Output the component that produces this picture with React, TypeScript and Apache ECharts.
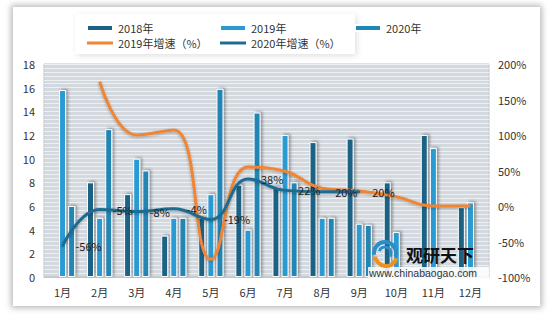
import React, { useEffect, useRef } from "react";
import * as echarts from "echarts";

const months = ["1月", "2月", "3月", "4月", "5月", "6月", "7月", "8月", "9月", "10月", "11月", "12月"];
const sales2018 = [null, 8, 7, 3.5, 5, 7.8, 7.6, 11.4, 11.7, 8, 12, 5.9];
const sales2019 = [15.8, 5, 10, 5, 7, 4, 12, 5, 4.5, 3.8, 10.9, 6.3];
const sales2020 = [6, 12.5, 9, 5, 15.9, 13.9, 8, 5, 4.4, null, null, null];
const growth2019 = [null, 175, 100, 107, -75, 55, 49, 25, 21, 13, 0, 0];
const growth2020 = [-56, -5, -8, -4, -19, 38, 22, 20, 20, null, null, null];

const C2018 = "#1b6285";
const C2019 = "#2a9bd2";
const C2020 = "#2385b4";
const CG19 = "#ef8535";
const CG20 = "#1f6c92";

const FONT = "'Noto Sans CJK SC', 'Noto Sans', sans-serif";

export default function App() {
  const ref = useRef<HTMLDivElement>(null);
  useEffect(() => {
    const chart = echarts.init(ref.current!, undefined, { renderer: "svg" });
    const barBase = {
      type: "bar",
      barWidth: 7,
      barGap: "30%",
      yAxisIndex: 0,
    };
    const barStyle = (c: string) => ({
      color: c,
      borderColor: "#ffffff",
      borderWidth: 1,
      shadowBlur: 3,
      shadowColor: "rgba(0,0,0,0.35)",
      shadowOffsetX: 2,
      shadowOffsetY: -1,
    });
    const barIcon = "path://M0,0H26V6H0Z";
    const lineIcon = "path://M0,0H26V3H0Z";
    const legendCommon = {
      orient: "vertical",
      top: 17.5,
      itemWidth: 26,
      itemHeight: 14,
      itemGap: 4,
      textStyle: { fontSize: 11, color: "#333", fontFamily: FONT },
    };
    chart.setOption({
      animation: false,
      textStyle: { fontFamily: FONT },
      legend: [
        { ...legendCommon, left: 81, data: [{ name: "2018年", icon: barIcon }, { name: "2019年增速（%）", icon: lineIcon }] },
        { ...legendCommon, left: 214, data: [{ name: "2019年", icon: barIcon }, { name: "2020年增速（%）", icon: lineIcon }] },
        { ...legendCommon, left: 349, data: [{ name: "2020年", icon: barIcon }] },
      ],
      grid: {
        left: 44,
        right: 64,
        top: 64,
        bottom: 48,
        show: true,
        backgroundColor: "#d3d9df",
        borderColor: "#bfc5cb",
        borderWidth: 1,
      },
      xAxis: {
        type: "category",
        data: months,
        axisLine: { show: true, lineStyle: { color: "#bfc5cb" } },
        axisTick: { show: false },
        axisLabel: { fontSize: 11, color: "#333", margin: 9, fontFamily: FONT },
      },
      yAxis: [
        {
          type: "value",
          min: 0,
          max: 18,
          interval: 2,
          axisLine: { show: false },
          axisTick: { show: false },
          axisLabel: { fontSize: 11, color: "#333", margin: 9 },
          splitLine: { show: true, lineStyle: { color: "#eef1f4", width: 1.2 } },
          minorTick: { show: false, splitNumber: 6 },
          minorSplitLine: { show: true, lineStyle: { color: "#eef1f4", width: 1.2 } },
        },
        {
          type: "value",
          min: -100,
          max: 200,
          interval: 50,
          position: "right",
          axisLine: { show: false },
          axisTick: { show: false },
          axisLabel: { fontSize: 11, color: "#333", margin: 9, formatter: "{value}%" },
          splitLine: { show: false },
        },
      ],
      series: [
        { ...barBase, name: "2018年", data: sales2018, itemStyle: barStyle(C2018) },
        { ...barBase, name: "2019年", data: sales2019, itemStyle: barStyle(C2019) },
        { ...barBase, name: "2020年", data: sales2020, itemStyle: barStyle(C2020) },
        {
          type: "line",
          name: "2019年增速（%）",
          yAxisIndex: 1,
          data: growth2019,
          smooth: 0.45,
          symbol: "none",
          lineStyle: { color: CG19, width: 3, shadowBlur: 3, shadowColor: "rgba(0,0,0,0.3)", shadowOffsetY: 1 },
          itemStyle: { color: CG19 },
          z: 5,
        },
        {
          type: "line",
          name: "2020年增速（%）",
          yAxisIndex: 1,
          data: growth2020,
          smooth: 0.45,
          symbol: "circle",
          symbolSize: 2,
          showSymbol: true,
          lineStyle: { color: CG20, width: 3, shadowBlur: 3, shadowColor: "rgba(0,0,0,0.3)", shadowOffsetY: 1 },
          itemStyle: { color: CG20 },
          label: {
            show: true,
            position: "right",
            distance: 12,
            formatter: "{c}%",
            fontSize: 11,
            color: "#222",
          },
          z: 6,
        },
      ],
      graphic: [
        { type: "rect", z: 100, shape: { x: 368, y: 267, width: 121, height: 11 }, style: { fill: "rgba(255,255,255,0.85)" } },
        { type: "arc", z: 100, shape: { cx: 385, cy: 253, r: 11, startAngle: Math.PI * 0.95, endAngle: Math.PI * 2.1 }, style: { stroke: "#2a8fc8", lineWidth: 4, fill: "none" } },
        { type: "arc", z: 100, shape: { cx: 385, cy: 253, r: 6, startAngle: Math.PI * 1.1, endAngle: Math.PI * 2.2 }, style: { stroke: "#2a8fc8", lineWidth: 3, fill: "none" } },
        { type: "arc", z: 100, shape: { cx: 386, cy: 255, r: 11, startAngle: Math.PI * 0.1, endAngle: Math.PI * 0.95 }, style: { stroke: "#f0901e", lineWidth: 4, fill: "none" } },
        {
          type: "text",
          z: 100,
          left: 406,
          top: 246,
          style: { text: "观研天下", fontSize: 17, fontWeight: "bold", fontFamily: "'Noto Sans CJK SC'", fill: "#111" },
        },
        {
          type: "text",
          z: 100,
          left: 369,
          top: 267,
          style: { text: "www.chinabaogao.com", fontSize: 10.5, fontFamily: "'Liberation Sans', Arial, sans-serif", fill: "#333" },
        },
      ],
    });
    return () => chart.dispose();
  }, []);
  return (
    <div style={{ position: "fixed", left: 0, top: 0, width: 553, height: 325, background: "#ffffff" }}>
      <div
        style={{
          position: "absolute",
          left: 13,
          top: 7,
          width: 527,
          height: 299,
          background: "#ffffff",
          boxShadow: "0 0 6px 2px rgba(0,0,0,0.28)",
        }}
      />
      <div
        style={{
          position: "absolute",
          left: 75,
          top: 14,
          width: 280,
          height: 40,
          background: "#ffffff",
          boxShadow: "2px 2px 6px rgba(0,0,0,0.12)",
        }}
      />
      <div ref={ref} style={{ position: "absolute", left: 0, top: 0, width: 553, height: 325 }} />
    </div>
  );
}
